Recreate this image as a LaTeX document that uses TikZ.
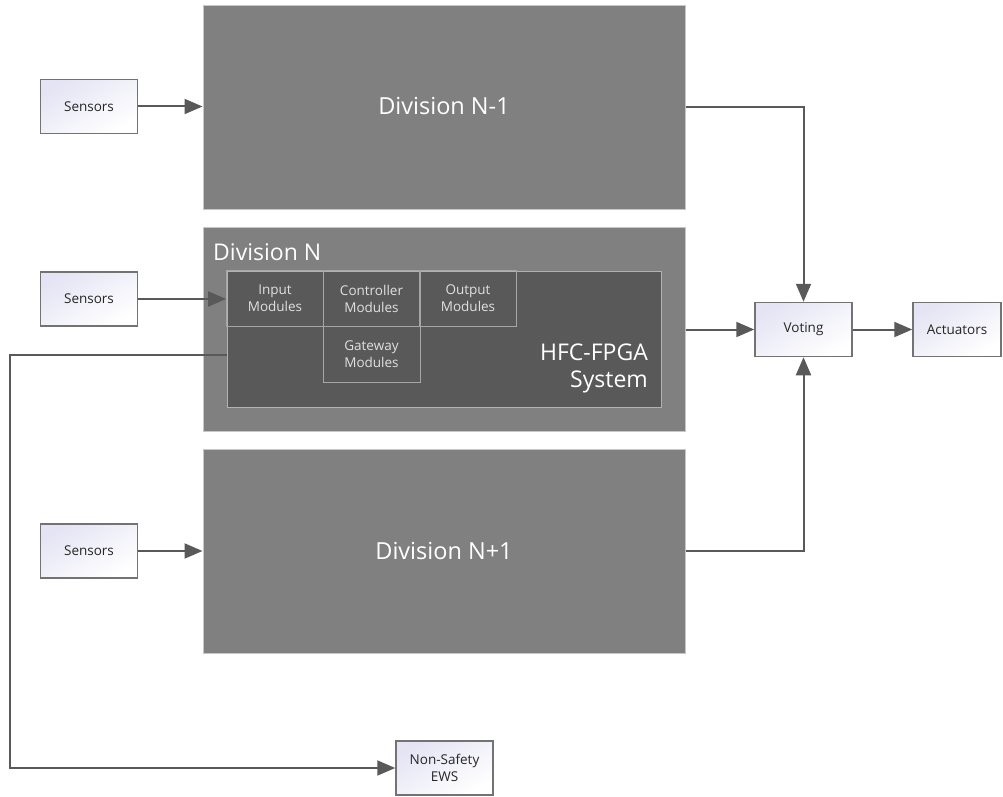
\documentclass[tikz,border=0pt]{standalone}
\usepackage{fontspec}
\setmainfont{Open Sans}
\usetikzlibrary{arrows.meta,calc}
\definecolor{divgray}{HTML}{808080}
\definecolor{innergray}{HTML}{595959}
\definecolor{linegray}{HTML}{595959}
\definecolor{boxtop}{HTML}{E4E4F4}
\tikzset{
  sbox/.style={draw=black!55, line width=1.5pt, top color=boxtop, bottom color=white, shading angle=30,
    minimum width=97pt, minimum height=54pt, inner sep=0pt, align=center, text=black!85,
    font=\fontsize{13.5}{17}\selectfont},
  divbox/.style={draw=black!22, line width=1pt, fill=divgray, minimum width=482pt, minimum height=204pt, inner sep=0pt},
  cellbox/.style={draw=black!35, line width=0.8pt, minimum width=97pt, minimum height=56pt, inner sep=0pt,
    align=center, text=black!12, font=\fontsize{13.5}{17}\selectfont},
  divlabel/.style={text=white, font=\fontsize{23.5}{28}\selectfont, inner sep=0pt},
  conn/.style={draw=linegray, line width=2pt},
  arr/.style={conn, -{Triangle[length=18pt,width=15pt]}},
}
\begin{document}
\begin{tikzpicture}[x=1pt,y=-1pt]
\useasboundingbox (0,0) rectangle (1003,797);
% divisions
\node[divbox] (d1) at (444,107.5) {};
\node[divlabel] (d1t) at (444,106) {Division N-1};
\node[divbox] (dn) at (444,329.5) {};
\node[divbox] (d3) at (444,551) {};
\node[divlabel] (d3t) at (444,551) {Division N+1};
\node[divlabel, anchor=west, font=\fontsize{23}{28}\selectfont] (dnt) at (213,252) {Division N};
% inner system
\node[draw=black!30, line width=0.8pt, fill=innergray, minimum width=434pt, minimum height=136pt, inner sep=0pt] (sys) at (444,339) {};
\node[cellbox] (in) at (275,298.5) {Input\\Modules};
\node[cellbox] (ctl) at (371.5,298.5) {Controller\\Modules};
\node[cellbox] (out) at (468,298.5) {Output\\Modules};
\node[cellbox] (gw) at (371.5,354.5) {Gateway\\Modules};
\node[anchor=east, align=right, text=white, font=\fontsize{23}{27}\selectfont, inner sep=0pt] (syst) at (648,368) {HFC-FPGA\\System};
% side boxes
\node[sbox] (s1) at (89,106.5) {Sensors};
\node[sbox] (s2) at (89,299) {Sensors};
\node[sbox] (s3) at (89,551) {Sensors};
\node[sbox] (vote) at (803.5,329.5) {Voting};
\node[sbox, minimum width=88pt] (act) at (957,329.5) {Actuators};
\node[sbox] (ews) at (444.5,768) {Non-Safety\\EWS};
% connectors
\draw[arr] (s1.east) -- (s1.east -| d1.west);
\draw[arr] (s2.east) -- (s2.east -| in.west);
\draw[arr] (s3.east) -- (s3.east -| d3.west);
\draw[arr] (d1.east) -| (vote.north);
\draw[arr] (dn.east) -- (vote.west);
\draw[arr] (d3.east) -| (vote.south);
\draw[arr] (vote.east) -- (act.west);
\coordinate (ewsstart) at (227,355);
\draw[arr] (ewsstart) -- (10,355) |- (ews.west);
\end{tikzpicture}
\end{document}
